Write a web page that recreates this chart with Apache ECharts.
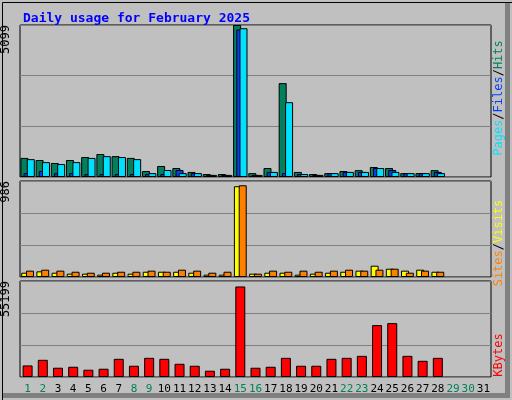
<!DOCTYPE html>
<html>
<head>
<meta charset="utf-8">
<script src="https://cdn.jsdelivr.net/npm/echarts@6/dist/echarts.min.js"></script>
<style>
	html, body { margin: 0; padding: 0; background: #c0c0c0; }
	#chart { width: 512px; height: 400px; }
</style>
</head>
<body>
<div id="chart"></div>
<script>
	var days = [];
	for (var d = 1; d <= 31; d++) days.push(String(d));
	var weekend = [ '1', '2', '8', '9', '15', '16', '22', '23', '29', '30' ];

	// values (days 29-31 empty)
	var hits = [ 640, 570, 470, 570, 670, 770, 700, 640, 200, 370, 300, 170, 100, 100, 5099, 130, 300, 3150, 170, 100, 130, 200, 230, 335, 300, 130, 130, 230 ];
	var files = [ 600, 500, 435, 500, 640, 700, 670, 600, 130, 235, 130, 130, 70, 70, 4990, 70, 170, 2510, 100, 70, 130, 170, 170, 300, 170, 130, 130, 130 ];
	var pages = [ 130, 200, 130, 130, 100, 100, 100, 100, 100, 100, 235, 130, 70, 70, 4950, 70, 170, 130, 100, 70, 130, 170, 170, 300, 235, 130, 130, 170 ];
	var sites = [ 44, 58, 44, 34, 34, 24, 44, 34, 54, 54, 54, 44, 24, 24, 932, 34, 44, 44, 24, 34, 44, 54, 65, 116, 85, 65, 75, 54 ];
	var visits = [ 65, 75, 65, 54, 44, 44, 54, 54, 65, 54, 75, 65, 44, 54, 942, 34, 65, 54, 65, 54, 65, 75, 65, 75, 85, 44, 65, 54 ];
	var kbytes = [ 6650, 9880, 5320, 5890, 4180, 4750, 10450, 6460, 11020, 10450, 7600, 6460, 3610, 4750, 52060, 5320, 5890, 11020, 6460, 6460, 10450, 11020, 12160, 29830, 30970, 12160, 9310, 11020 ];

	var maxHits = 5099, maxSites = 986, maxKb = 55199;

	var chart = echarts.init(document.getElementById('chart'));
	var font = 'DejaVu Sans Mono';
	var grids = [
		{ left: 20, right: 21, top: 25, height: 152 },
		{ left: 20, right: 21, top: 181, height: 96 },
		{ left: 20, right: 21, top: 281, height: 96 }
	];
	grids.forEach(function(g) { g.show = true; g.borderColor = '#000'; g.borderWidth = 1; g.backgroundColor = '#c0c0c0'; });

	function xAx(idx, showLabel) {
		return {
			type: 'category', gridIndex: idx, data: days,
			axisLine: { show: false }, axisTick: { show: false },
			axisLabel: {
				show: showLabel, interval: 0, hideOverlap: false, margin: 7, fontFamily: font, fontSize: 11,
				color: function(v) { return weekend.indexOf(v) >= 0 ? '#00805c' : '#000'; }
			}
		};
	}
	function yAx(idx, max) {
		return {
			type: 'value', gridIndex: idx, min: 0, max: max, interval: max / 3,
			axisLine: { show: false }, axisTick: { show: false },
			splitLine: { lineStyle: { color: '#808080', width: 1 } },
			axisLabel: {
				rotate: 90, margin: 8, fontFamily: font, fontSize: 12, color: '#000',
				verticalAlign: 'bottom', align: 'right',
				formatter: function(v) { return v === max ? String(max) : ''; }
			}
		};
	}
	function bar(name, x, data, color, gap) {
		return {
			name: name, type: 'bar', xAxisIndex: x, yAxisIndex: x, data: data,
			barWidth: 8, barGap: gap, animation: false,
			itemStyle: { color: color, borderColor: '#000', borderWidth: 1 }
		};
	}

	var option = {
		backgroundColor: '#c0c0c0',
		animation: false,
		title: {
			text: 'Daily usage for February 2025', left: 18, top: 7,
			textStyle: { color: '#0000ff', fontFamily: font, fontSize: 13, fontWeight: 'bold' }
		},
		grid: grids,
		xAxis: [ xAx(0, false), xAx(1, false), xAx(2, true) ],
		yAxis: [ yAx(0, maxHits), yAx(1, maxSites), yAx(2, maxKb) ],
		series: [
			bar('Hits', 0, hits, '#00805c', '-60%'),
			bar('Pages', 0, pages, '#0040ff', '-60%'),
			bar('Files', 0, files, '#00e0ff', '-60%'),
			bar('Sites', 1, sites, '#ffff00', '-40%'),
			bar('Visits', 1, visits, '#ff8000', '-40%'),
			{
				name: 'KBytes', type: 'bar', xAxisIndex: 2, yAxisIndex: 2, data: kbytes, barWidth: 10,
				itemStyle: { color: '#ff0000', borderColor: '#000', borderWidth: 1 }
			}
		],
		graphic: [
			{ type: 'rect', left: 0, top: 0, shape: { width: 511, height: 399 }, style: { fill: 'none', stroke: '#000', lineWidth: 1 } },
			{ type: 'rect', left: 505, top: 3, shape: { width: 5, height: 394 }, style: { fill: '#808080' } },
			{ type: 'rect', left: 3, top: 393, shape: { width: 507, height: 5 }, style: { fill: '#808080' } },
			{
				type: 'text', x: 499, y: 98, rotation: Math.PI / 2,
				style: {
					text: '{a|Pages}/{b|Files}/{c|Hits}', align: 'center', verticalAlign: 'middle',
					font: '12px ' + font,
					rich: { a: { fill: '#00e0ff' }, b: { fill: '#0040ff' }, c: { fill: '#00805c' } },
					fill: '#000'
				}
			},
			{
				type: 'text', x: 499, y: 243, rotation: Math.PI / 2,
				style: {
					text: '{a|Sites}/{b|Visits}', align: 'center', verticalAlign: 'middle',
					font: '12px ' + font,
					rich: { a: { fill: '#ff8000' }, b: { fill: '#ffff00' } },
					fill: '#000'
				}
			},
			{
				type: 'text', x: 499, y: 355, rotation: Math.PI / 2,
				style: { text: 'KBytes', align: 'center', verticalAlign: 'middle', font: '12px ' + font, fill: '#ff0000' }
			}
		]
	};
	chart.setOption(option);
</script>
</body>
</html>
